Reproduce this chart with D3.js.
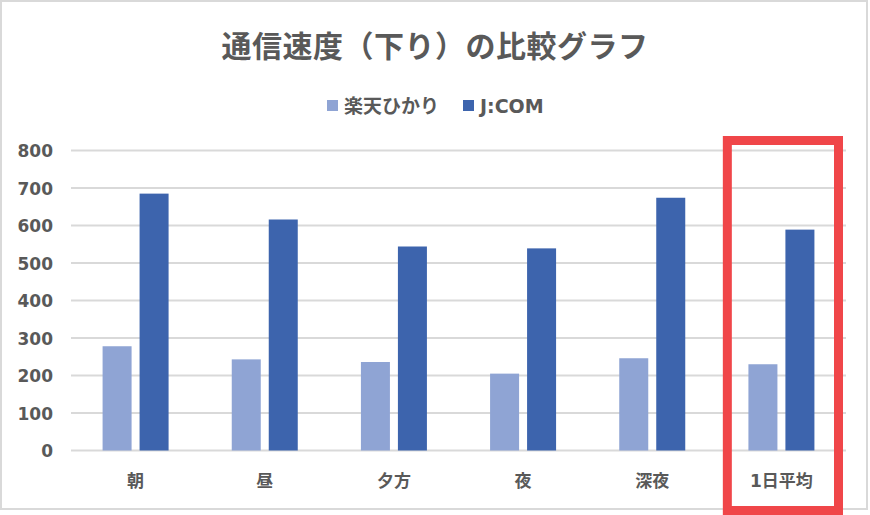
<!DOCTYPE html>
<html>
<head>
<meta charset="utf-8">
<script src="https://cdn.jsdelivr.net/npm/d3@7"></script>
<style>
  body { margin: 0; background: #fff; }
  text { font-family: "DejaVu Sans", "Noto Sans CJK JP", sans-serif; font-weight: bold; fill: #595959; }
</style>
</head>
<body>
<svg id="plotCanvas" width="870" height="515"></svg>
<script>
// chart data
var categories = ["朝", "昼", "夕方", "夜", "深夜", "1日平均"];
var seriesNames = ["楽天ひかり", "J:COM"];
var rakutenValues = [278, 243, 236, 205, 246, 230];
var jcomValues = [685, 616, 544, 539, 674, 589];
var yTicks = [0, 100, 200, 300, 400, 500, 600, 700, 800];
var colors = ["#8fa4d4", "#3d64ad"];
var title = "通信速度（下り）の比較グラフ";
var highlight = "1日平均";

var canvasWidth = 870, canvasHeight = 515;
var plotLeft = 71, plotRight = 846, plotTop = 150.5, plotBottom = 450.5;

var canvas = d3.select("#plotCanvas");

// outer chart border
canvas.append("rect")
    .attr("x", 1).attr("y", 1)
    .attr("width", 866).attr("height", 508)
    .attr("fill", "#fff")
    .attr("stroke", "#d9d9d9")
    .attr("stroke-width", 2);

var x0 = d3.scaleBand().domain(categories).range([plotLeft, plotRight]).padding(0);
var x1 = d3.scaleBand().domain(seriesNames).range([-33, 33]).paddingInner(0.216).paddingOuter(0);
var y = d3.scaleLinear().domain([0, 800]).range([plotBottom, plotTop]);

// gridlines
canvas.append("g")
    .selectAll("line")
    .data(yTicks)
    .enter().append("line")
    .attr("x1", plotLeft).attr("x2", plotRight)
    .attr("y1", function(d) { return y(d); })
    .attr("y2", function(d) { return y(d); })
    .attr("stroke", "#d9d9d9")
    .attr("stroke-width", 2);

// y axis labels
var yAxis = d3.axisLeft(y).tickValues(yTicks).tickSize(0).tickPadding(0);
var gy = canvas.append("g").attr("transform", "translate(53,0)").call(yAxis);
gy.select(".domain").remove();
gy.selectAll("text")
    .attr("font-size", "17px")
    .attr("font-family", null)
    .attr("fill", "#595959")
    .attr("dy", "0.36em");

// x axis labels
var xAxis = d3.axisBottom(x0).tickSize(0).tickPadding(0);
var gx = canvas.append("g").attr("transform", "translate(0,481)").call(xAxis);
gx.select(".domain").remove();
gx.selectAll("text")
    .attr("font-size", "17px")
    .attr("font-family", null)
    .attr("fill", "#595959")
    .attr("dy", "0.36em");

// bars
var rows = categories.map(function(c, i) {
    return { cat: c, values: [rakutenValues[i], jcomValues[i]] };
});

var groups = canvas.append("g")
    .selectAll("g")
    .data(rows)
    .enter().append("g")
    .attr("transform", function(d) { return "translate(" + (x0(d.cat) + x0.bandwidth() / 2) + ",0)"; });

groups.selectAll("rect")
    .data(function(d) { return d.values.map(function(v, j) { return { name: seriesNames[j], value: v, idx: j }; }); })
    .enter().append("rect")
    .attr("x", function(d) { return x1(d.name); })
    .attr("width", x1.bandwidth())
    .attr("y", function(d) { return y(d.value); })
    .attr("height", function(d) { return y(0) - y(d.value); })
    .attr("fill", function(d) { return colors[d.idx]; });

// title
canvas.append("text")
    .attr("x", canvasWidth / 2)
    .attr("y", 57)
    .attr("text-anchor", "middle")
    .attr("font-size", "30px")
    .attr("letter-spacing", "0.5px")
    .text(title);

// legend
var legendX = [327, 463];
var legend = canvas.append("g")
    .selectAll("g")
    .data(seriesNames)
    .enter().append("g")
    .attr("transform", function(d, i) { return "translate(" + legendX[i] + ",100)"; });

legend.append("rect")
    .attr("width", 11).attr("height", 11)
    .attr("fill", function(d, i) { return colors[i]; });

legend.append("text")
    .attr("x", 17)
    .attr("y", 6)
    .attr("dy", "0.36em")
    .attr("font-size", "19px")
    .text(function(d) { return d; });

// red highlight box round the average
canvas.append("rect")
    .attr("x", x0(highlight) + 10.5)
    .attr("y", 140.5)
    .attr("width", x0.bandwidth() - 18)
    .attr("height", 370)
    .attr("fill", "none")
    .attr("stroke", "#f04649")
    .attr("stroke-width", 9);
</script>
</body>
</html>
